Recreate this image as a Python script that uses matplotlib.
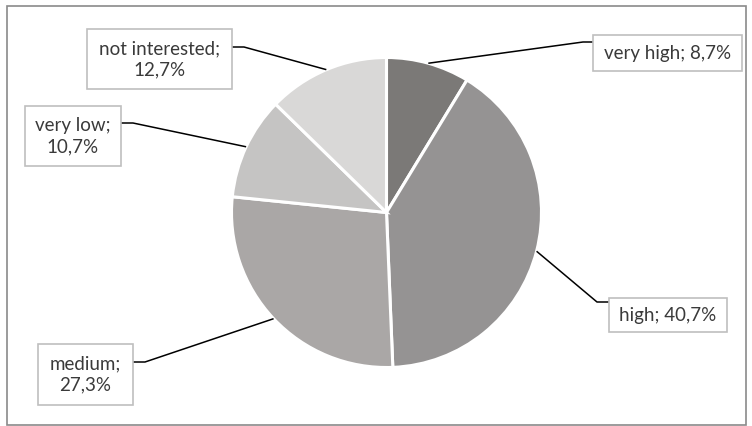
import numpy as np
import matplotlib
matplotlib.use("Agg")
import matplotlib.pyplot as plt
from matplotlib.patches import Rectangle

categories = ["very high", "high", "medium", "very low", "not interested"]
values = [8.7, 40.7, 27.3, 10.7, 12.7]
label_texts = ["very high; 8,7%", "high; 40,7%", "medium;\n27,3%", "very low;\n10,7%", "not interested;\n12,7%"]
colors = ["#7b7977", "#959393", "#aaa7a6", "#c5c4c3", "#d9d8d7"]

W, H = 752, 426
fig = plt.figure(figsize=(W / 100, H / 100), dpi=100)
ax = fig.add_axes([0, 0, 1, 1])
ax.set_xlim(0, W)
ax.set_ylim(0, H)
ax.set_aspect("equal")
ax.axis("off")

def Y(y):
    return H - y

# outer frame
ax.add_patch(Rectangle((6.5, Y(424.5)), 739.5, 419, fill=False, edgecolor="#8a8a8a", lw=1.2))

cx, cy, R = 386.5, 212.5, 155
wedges, _ = ax.pie(values, colors=colors, startangle=90, counterclock=False,
                   center=(cx, Y(cy)), radius=R,
                   wedgeprops=dict(edgecolor="white", linewidth=2.2), frame=True)
ax.set_xlim(0, W)
ax.set_ylim(0, H)
ax.axis("off")

# label boxes (x0, y0, x1, y1 in pixels) and elbow points
boxes = [(593, 35, 742, 71), (609, 298, 727, 332), (38, 344, 133, 405),
         (25, 106, 121, 166), (87, 29, 232, 89)]
elbows = [((583, 42), (593, 42)), ((597, 302), (609, 302)), ((145, 362), (133, 362)),
          ((133, 123), (121, 123)), ((244, 47), (232, 47))]

for w, txt, box, (e1, e2) in zip(wedges, label_texts, boxes, elbows):
    ang = np.deg2rad((w.theta1 + w.theta2) / 2)
    sx = cx + R * np.cos(ang)
    sy = Y(cy) + R * np.sin(ang)
    ax.plot([sx, e1[0], e2[0]], [sy, Y(e1[1]), Y(e2[1])], color="black", lw=1.1,
            solid_capstyle="butt", zorder=3)
    x0, y0, x1, y1 = box
    ax.add_patch(Rectangle((x0, Y(y1)), x1 - x0, y1 - y0, facecolor="white",
                           edgecolor="#bfbfbf", lw=1.2, zorder=4))
    ax.text((x0 + x1) / 2, Y((y0 + y1) / 2), txt, ha="center", va="center",
            fontsize=13.5, family="Lato", color="#3a3a3a", linespacing=1.28, zorder=5)

fig.savefig("out.png", dpi=100)
